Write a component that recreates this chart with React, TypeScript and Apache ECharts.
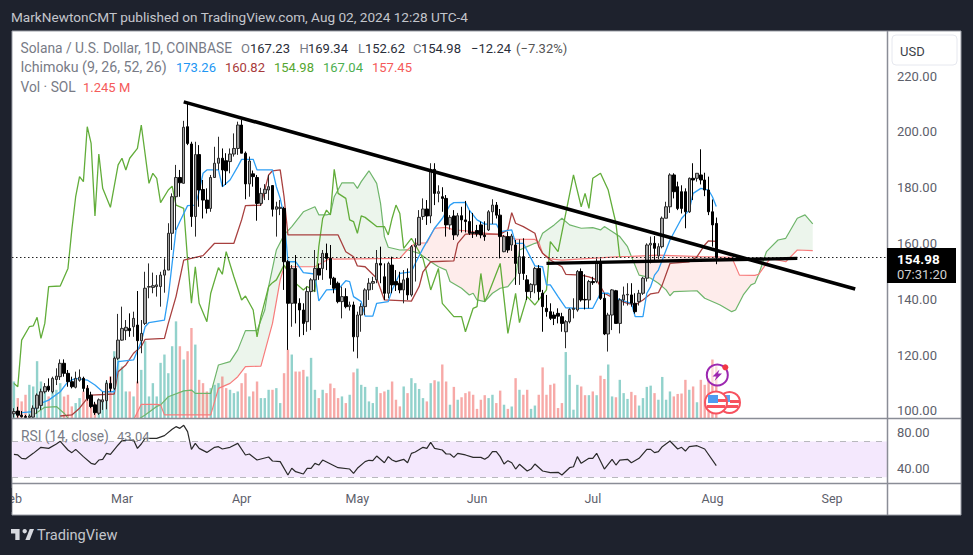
import React, { useEffect, useRef } from "react";
import * as echarts from "echarts";

type Knot = [number, number];

const priceTicks = [100, 120, 140, 160, 180, 200, 220];
const rsiTicks = [40, 80];
const monthTicks: Record<number, string> = { 28: "Mar", 59: "Apr", 89: "May", 120: "Jun", 150: "Jul", 181: "Aug", 212: "Sep" };
const DAY_COUNT = 227;

// open, close, low, high
const candles: number[][] = [
[99,99.8,97.6,101],[100,98.5,97.6,101.5],[98.5,98,97.6,100],[98,97.7,97.6,98.6],[97.7,98.2,97.6,98.8],[97.8,101,97.6,102],[101,105.7,99,106.3],[102,106.9,100.4,108],[106.9,108.7,106.3,110],[108.9,107.5,106.9,111.7],
[106.9,111.7,106.3,112.3],[111.3,112.5,109.3,115.3],[112.3,117.1,111.1,118.5],[117.1,113.5,112.3,118.5],[113.5,110.5,108.7,114.7],[110.5,108.7,108.1,112.3],[108.5,111.7,108.1,114.1],[111,112.1,110.5,114.9],[111.7,108.1,106.9,112.3],[108.1,104.5,103.7,109.3],
[105.7,101.6,101,106.9],[102.2,99.4,98.6,103.3],[99.2,104,98.6,104.5],[103.3,104,100.4,106.9],[103.7,109.9,100.6,111.1],[109.9,108.1,106.9,112.3],[108.1,118.9,107.5,119.5],[118.9,125.4,118.3,134.8],[125.4,129.6,125.2,137.4],[128.8,130,125.4,132.6],
[129.6,128.8,126.6,135],[130.2,133.2,126.6,135.6],[130.8,125.2,109.9,143],[125.2,127.8,120.7,132.6],[131.4,144,130.8,149.9],[144.4,144.6,140.4,152.9],[144.3,144.9,142.2,149.6],[144.6,145.2,141,148.7],[144.6,148.7,137.4,149.9],[148.7,150.5,142.4,154.7],
[150.5,163.7,150.5,167.3],[163.7,176.8,157.7,178],[176.8,183.7,164.9,188.2],[183.7,181.8,176.8,186.4],[181.6,201.7,181.6,204],[201.9,195.9,195.3,210.3],[195.7,169.7,166,196.5],[169.7,191.9,162.5,196.5],[191.9,179.2,173.2,195.3],[179.4,175.6,169,182.8],
[175.6,172.6,170.8,179.8],[172.6,183.7,171.4,184.6],[183.7,188.8,183.7,194.7],[188.8,190.6,186.4,198.3],[190.6,186.4,180.4,194.1],[189.7,186.1,181,192.4],[189.4,192.1,185.2,194.1],[192.1,194.1,191.2,199.5],[194.1,202.5,191.8,203.7],[202.5,192.4,192.4,204.3],
[192.4,181.4,175.9,193],[181.4,189.6,176.8,191.2],[185,184,180.4,186.2],[183.7,174.4,168.2,184.6],[174.4,178,173.5,180],[178,179.5,175.6,181.3],[179.2,180.4,175.6,184.6],[180.8,172.3,169.7,181],[172.3,173.2,162.5,175],[172.6,173,170.2,175.6],
[172.6,153.5,143.4,173.2],[153.5,138.6,121.9,154.1],[138.6,151.1,130.2,152.3],[151.1,138.6,131.4,155.9],[138.6,136.2,126.6,140.4],[136.2,131.4,127.2,138.6],[132,142.8,128.4,144.6],[142.8,147,129,147.6],[147,151.1,142.8,157.7],[151.1,148.7,147,152.9],
[151.1,156.5,147,157.7],[156.5,154.7,150.5,160],[154.7,147.6,145.2,159.5],[147.6,144,142.2,148.1],[145.8,139.2,138.6,146.4],[139.2,141,133.2,144.6],[141,137.4,136.8,144],[137.4,138,136,139.2],[138,126.6,121.3,139.2],[126.6,134.4,118.9,135.6],
[134.4,137.4,128.4,138.6],[137.4,143.4,134.4,144],[143.4,145.8,139.8,147.6],[145.8,146.4,143.4,148.1],[147,152.9,145.8,157.7],[152.9,152.3,145.8,158.9],[148.1,142.2,139.8,152.9],[142.2,152.9,140.4,153.5],[152.3,145.2,142.2,155.3],[146.4,145.2,143,150.5],
[145.8,143.4,142.2,149.9],[143.4,147,138.6,150.5],[147.6,141.6,139.8,151.1],[141.6,158.9,141,159.5],[158.9,159.5,146.4,161.9],[159.5,169.4,159.5,172],[169.7,172.4,168.5,176.2],[172.4,169.9,166.7,175.6],[169.9,186.4,167.3,188.8],[186.6,178,173.8,188.8],
[178,178.6,174.8,180.9],[176.8,176.2,171.4,180.2],[176.2,166.7,162.5,177.4],[166.7,169.4,165,170.2],[169.9,163.1,161.3,172],[163.1,170,162.5,171],[170,168.5,164,173.2],[168.5,167.9,164,175.3],[167.9,163.7,163.1,171.9],[164,163.7,162,171],
[164.7,163.5,162.5,166.7],[166.7,163.1,161.9,167.9],[163,162.5,161,168],[164.9,171.4,164.5,172],[171.4,173.8,167,175.9],[173.8,170.2,169,174.9],[170.2,162.5,154.7,172.4],[157.1,162.5,156.9,163.1],[162.5,157.7,156.7,164.3],[159.5,162.7,157.4,163.5],
[159.5,152.9,145.2,161.3],[149.3,155.3,145.2,161.5],[155.3,149.3,147,161.9],[147,142.8,139.8,148.7],[142.8,145.4,140.4,145.8],[145.2,151.1,142.2,151.7],[151.1,142.8,139.8,152.3],[142.2,137.4,128.4,143.4],[136.8,135.6,133.8,141.6],[135.6,133.2,132.6,138.6],
[134.4,133.2,130.8,135.6],[135,134,131.4,136.8],[133.8,131.4,128.4,135.2],[128.4,132,122.5,132.6],[132,136.4,131.4,136.8],[136.4,136.8,133.2,140.4],[136.2,150,135.6,150.5],[150,139.8,139.2,151.1],[140,139.8,136.4,149],[139.8,146.4,136.8,147],
[146.4,146,145.2,148.1],[146.4,153.5,145.8,154.7],[153.5,140.4,139.8,154.7],[140.4,127.6,127.2,142.2],[127.6,134.4,121.3,135.2],[134.4,143.4,129,143.7],[143.1,131.4,131.4,143.4],[131.4,139.8,127.8,140.4],[139.8,141.6,137.8,144.6],[141.6,141.8,137.8,145.8],
[141.6,138.6,137.4,145.8],[138.6,135.6,134.9,142.2],[139.2,142.2,137.8,143.4],[142.2,147.6,141.6,148.1],[147.6,159.5,146.4,160.1],[159.5,160.1,152.9,162.5],[160.1,158.3,153.5,162.7],[155.6,158.9,154.4,160.1],[158.9,169.1,158.3,169.7],[169.1,173.2,169.1,175],
[173.2,184.6,171,185.2],[184.6,178.6,176.2,185.2],[180.4,172.6,172,182.2],[178.6,172.6,170.8,180.9],[178.6,171.4,165.5,179.8],[171.4,183.4,171,183.7],[183.4,182.8,175.6,188.8],[183.4,185.2,182.2,185.2],[184.6,182.8,181.2,193.8],[182.8,179.2,177,185.4],
[179.2,171.4,170.2,184],[171.4,166.7,158.9,175.8],[167.23,154.98,152.62,169.34],
];

const volumes = [
0.88,0.48,0.40,0.56,0.80,0.76,1.37,0.88,0.76,0.52,0.72,0.68,0.84,0.52,0.56,0.28,0.36,0.48,0.64,0.76,
0.28,0.36,0.36,0.44,0.88,1.00,1.61,1.69,1.24,0.64,0.64,0.52,0.88,1.16,1.85,0.52,0.84,0.52,1.33,1.53,
1.08,1.73,2.33,1.73,1.41,1.61,2.17,1.77,0.92,0.84,0.64,0.72,0.80,0.84,1.00,0.72,0.68,0.60,0.64,0.84,
1.08,0.52,0.64,0.88,0.48,0.48,0.68,0.68,0.72,0.36,1.08,1.65,1.53,1.12,1.12,1.16,1.00,1.45,0.68,0.48,
0.68,0.60,0.83,0.72,0.48,0.52,0.36,0.56,1.10,1.19,0.80,0.75,0.40,0.36,0.75,0.60,0.64,0.68,0.88,0.44,
0.28,0.76,0.60,0.96,0.84,0.70,0.48,0.40,0.84,0.91,0.88,1.29,0.88,0.32,0.75,0.44,0.50,0.60,0.64,0.56,
0.22,0.44,0.55,0.48,0.56,0.36,0.66,0.32,0.22,0.28,0.96,0.68,0.56,0.68,0.22,0.30,0.56,1.22,0.56,0.80,
0.83,0.24,0.36,1.59,1.04,0.20,0.80,0.76,0.55,0.55,0.64,0.55,1.02,0.94,1.29,0.52,0.50,0.92,0.60,0.46,
0.63,0.55,0.30,0.48,0.75,0.78,0.60,0.44,0.99,0.44,0.64,0.52,0.58,0.59,0.92,0.68,0.76,0.38,0.92,0.80,
0.96,1.41,1.245,
];

const tenkan: Knot[] = [[2,99.4],[5,99.8],[6,102.2],[9,103.9],[12,106.9],[14,110.5],[16,111.7],[19,111.1],[21,109.3],[23,106.9],[26,106.9],[27,117.7],[31,118.3],[33,124.9],[34,130.2],[35,131.7],[39,132.6],[40,141],[42,164.9],[43,167.9],[45,173.6],[47,173.8],[48,178.6],[49,185.2],[50,186.4],[53,186.4],[54,180.4],[56,182.8],[58,187.6],[59,190.2],[62,190.2],[63,186.4],[67,186.4],[68,180.4],[69,176.2],[70,169.7],[71,153.5],[73,153.5],[75,149.6],[78,149.1],[79,139.5],[81,143.4],[84,143.6],[86,146.7],[87,146.4],[88,141],[90,139.2],[91,134],[93,134],[94,138.6],[97,139.2],[98,143.4],[100,149.3],[103,149.9],[104,152.9],[106,158.3],[109,165.5],[111,169],[113,173.8],[114,174.7],[117,174.8],[118,172],[120,168.5],[122,167],[125,167],[126,164.3],[129,164.9],[130,160.1],[132,160.1],[134,154.7],[135,152],[137,151.7],[138,145.2],[139,145.2],[141,141],[143,137],[146,136.8],[150,136.8],[152,142.2],[154,142.2],[156,140.4],[160,138.6],[161,133.8],[163,133.8],[164,142.2],[165,144.6],[166,148.7],[167,150.5],[170,161.3],[173,169],[175,172],[176,178],[178,179.8],[180,179.2],[181,176.8],[182,173.26]];

const kijun: Knot[] = [[12,98.2],[15,98.6],[17,101],[19,104.5],[20,105.7],[26,106.1],[27,114.1],[29,116.5],[31,120.7],[33,123.1],[34,125.7],[39,126],[40,131.4],[42,141],[44,154.1],[49,155.7],[52,160.1],[57,160.1],[59,168.5],[60,173.6],[64,173.8],[66,184.6],[67,186.1],[69,186.4],[70,176.8],[71,163.1],[84,163.1],[86,157.1],[88,155.3],[89,152],[91,151.7],[94,147.6],[96,139.8],[103,139.4],[105,144.6],[106,149.9],[108,153.5],[114,153.8],[115,160.1],[117,163.4],[126,163.4],[128,164.9],[129,171.1],[130,167.3],[132,166.1],[135,163.7],[136,158.9],[137,156.5],[139,154.1],[142,151.7],[143,149],[147,148.7],[149,148.1],[151,147],[153,142.2],[156,140],[159,138.6],[161,138],[163,139.8],[165,142],[167,142.4],[168,145.2],[170,152.9],[175,153.5],[177,155.3],[179,159.5],[180,161],[182,160.82]];

const chikou: Knot[] = [[0,109.9],[1,108.7],[2,125.4],[4,130.2],[5,130.5],[6,133.6],[7,126],[8,131.4],[9,144.6],[12,144.8],[14,151.1],[15,164.9],[16,176.8],[17,184],[18,182.2],[19,201.9],[20,195.9],[21,169.9],[22,192.1],[23,179.8],[25,173],[27,188.2],[28,190.6],[29,186.4],[30,190.6],[32,194.1],[33,202.5],[35,181.6],[36,185.2],[37,183.4],[38,174.7],[40,179.2],[41,180.6],[42,173.8],[44,172.6],[45,154.1],[46,138.6],[47,151.7],[48,138.6],[50,132],[51,142.2],[53,151.4],[54,149],[55,157.1],[57,148.1],[59,139.8],[60,141.2],[62,136.2],[63,126.6],[64,133.8],[66,144.6],[67,146],[68,147],[70,152.3],[71,149.9],[72,147],[75,143.4],[76,144.6],[78,142.8],[79,158.9],[80,169],[81,172],[82,170.3],[83,186.6],[84,178],[86,176.2],[87,168.5],[88,167.9],[89,163.7],[90,169.9],[91,169.4],[94,166.1],[96,166.1],[97,163.1],[98,169.1],[99,173.8],[100,170.8],[101,158.3],[103,161.9],[104,159.5],[106,154.7],[107,149.3],[108,143.4],[110,151.1],[111,138.6],[114,133.8],[116,133.8],[117,128.4],[119,136.8],[120,137.4],[121,149.3],[122,139.2],[123,142.2],[126,152.9],[128,127.8],[130,142.2],[131,131.7],[133,141],[135,138],[136,139.8],[138,143.4],[139,160.7],[141,157.1],[143,170.8],[145,184.6],[147,173.2],[148,178],[149,172.6],[150,183.4],[152,185.2],[154,179.2],[156,167.3],[157,155]];

const senkouA: Knot[] = [[5,98.6],[8,101.3],[11,101.6],[13,99.2],[14,97.4],[24,95.6],[32,96.8],[34,98.6],[37,101.6],[38,102.2],[40,105.1],[44,107.2],[46,107.5],[47,106.3],[51,106.3],[53,116.5],[56,117.7],[58,121.9],[60,128.8],[63,128.8],[65,136.2],[66,144.6],[68,157.7],[70,163.1],[72,166.1],[75,171.4],[78,173.2],[79,170.3],[81,170.3],[82,170.6],[83,176.8],[85,181.8],[88,181.8],[89,179.8],[90,182.2],[92,186.1],[94,181.6],[95,174.4],[96,162.5],[97,158.7],[100,157.7],[102,157.8],[105,156.5],[108,153.5],[110,151.7],[112,150.5],[113,146.4],[116,144],[118,141.6],[119,142.2],[120,139.8],[122,139.2],[124,142.2],[126,144],[128,144.6],[130,148.1],[131,157.7],[133,158.9],[135,160.1],[136,160.5],[137,163.7],[140,166.7],[142,169.1],[144,166.7],[147,165.5],[150,165.7],[152,164.9],[153,166.1],[155,164.3],[157,162.5],[159,158.9],[160,155.4],[162,148.7],[164,148.1],[165,147.6],[167,145.8],[169,143.4],[170,141.3],[171,142.8],[177,143.1],[179,140.4],[182,138.6],[183,138],[186,135.6],[187,136.2],[189,141.6],[191,145.2],[192,145.8],[193,149],[195,157.1],[198,161.3],[200,161.9],[203,169.1],[205,170.3],[207,167.04]];

const senkouB: Knot[] = [[31,96.8],[33,102.4],[37,102.4],[38,102.2],[39,98.6],[51,98.6],[53,108.1],[56,109.9],[58,112.3],[60,115.9],[64,116.1],[67,131.4],[69,147],[70,151.7],[78,151.7],[82,154.8],[83,154.4],[100,154.7],[102,157.8],[104,160.1],[107,160.3],[109,165.5],[112,165.8],[114,164.9],[117,164.6],[126,163.1],[130,161.6],[135,161.5],[136,160.5],[137,156.5],[139,154.5],[142,154.1],[157,155.3],[160,155.4],[167,155.9],[178,155.3],[186,155.1],[188,148.7],[192,148.6],[193,149],[196,154.7],[200,153.5],[203,157.7],[207,157.45]];

const cloudBreaks = [31, 38, 102, 136, 160, 193, 207];

const rsi: Knot[] = [[0,55.7],[1,55],[2,51.2],[3,50.5],[5,56.8],[7,63.6],[9,62.4],[11,67.3],[12,70.3],[14,60.6],[15,57.6],[16,61.3],[18,53.1],[20,45.6],[21,44.5],[22,49.3],[23,50.1],[24,56.8],[25,55.7],[27,66.2],[28,71],[31,71.8],[32,62.4],[33,67.3],[34,73.7],[37,73.7],[39,76.7],[41,83.8],[42,86.8],[43,84.9],[44,88.3],[45,81.2],[46,61.3],[47,68],[48,62.4],[50,57.9],[52,63.6],[53,64.3],[54,61.7],[56,63.6],[58,68],[60,55],[61,56.1],[63,49.3],[66,52.7],[67,48.2],[69,47.5],[71,32.5],[72,40],[73,36.2],[75,33.6],[76,40],[77,40],[78,45.6],[79,43.7],[80,49.3],[84,40.7],[87,39.2],[88,34.3],[89,40],[91,47.5],[92,49],[93,48.6],[94,53.8],[96,46.3],[97,53.1],[98,49.3],[99,47.5],[101,50.1],[102,46.3],[103,56.8],[104,58.3],[106,63.6],[107,62.4],[108,69.2],[109,62.4],[111,60.6],[112,56.1],[113,56.1],[114,52.3],[115,56.8],[117,55],[119,52.3],[121,52.3],[122,50.1],[123,53.1],[124,58.7],[125,58.7],[126,53.1],[127,44.8],[128,48.6],[129,46.3],[130,39.2],[131,44.5],[133,37],[134,39.2],[135,44.8],[137,37],[139,35.1],[141,35.5],[142,32.5],[144,40.7],[145,41.8],[146,53.1],[147,45.6],[149,51.2],[150,51.2],[151,56.8],[153,39.2],[155,50.1],[156,43.7],[157,49.3],[159,50.1],[160,46.3],[162,51.2],[164,61.3],[165,61.3],[166,57.6],[167,58.7],[168,64.3],[170,70.7],[172,61.7],[173,63.6],[174,59.4],[175,64.3],[177,65.4],[179,61.7],[182,43.04]];

const trendLine: Knot[] = [[44, 210.8], [218, 143.7]];
const supportLine: Knot[] = [[138, 152.9], [203, 154.7]];
const candleMark: Knot[] = [[152, 153.5], [152, 140.4]];
const lastClose = 154.98;

const DARK = "#1e222d";
const GRAY = "#787b86";
const FONT = "Roboto, sans-serif";
const LABEL_SIZE = 13.8;

const days: string[] = Array.from({ length: DAY_COUNT }, (_, i) => monthTicks[i] || `d${i}`);

const text = (t: string, x: number, y: number, fill: string, size = 13, extra: any = {}) => ({
  type: "text", x, y, z: 50,
  style: { text: t, fill, font: `${extra.weight || "normal"} ${size}px ${FONT}`, verticalAlign: "middle", align: extra.align || "left" },
});

export default function App() {
  const ref = useRef<HTMLDivElement>(null);
  useEffect(() => {
    document.body.style.margin = "0";
    document.body.style.background = DARK;
    const chart = echarts.init(ref.current!, null, { renderer: "svg" });
    const inRange = (s: Knot[], a: number, b: number) => s.filter((k) => k[0] >= a && k[0] <= b);
    const regions = cloudBreaks.slice(0, -1).map((a, k) => [a, cloudBreaks[k + 1]]);
    const graphics: any[] = [
      { type: "rect", z: -10, shape: { x: 12, y: 31, width: 949, height: 484 }, style: { fill: "#fff", stroke: "#9a9da6", lineWidth: 1 } },
      text("MarkNewtonCMT published on TradingView.com, Aug 02, 2024 12:28 UTC-4", 11, 17, "#c4c6cc", 13.6),
      text("Solana / U.S. Dollar, 1D, COINBASE", 20.5, 48, GRAY, LABEL_SIZE),
      text("O", 241, 48, GRAY), text("167.23", 250, 48, "#2a2e39"),
      text("H", 299.5, 48, GRAY), text("169.34", 308, 48, "#2a2e39"),
      text("L", 358, 48, GRAY), text("152.62", 365, 48, "#2a2e39"),
      text("C", 413, 48, GRAY), text("154.98", 421, 48, "#2a2e39"),
      text("−12.24", 471, 48, "#2a2e39"), text("(−7.32%)", 516, 48, "#555"),
      text("Ichimoku (9, 26, 52, 26)", 20.5, 67, GRAY, 14.2),
      text("173.26", 176, 67, "#2196f3"), text("160.82", 225, 67, "#a83a3a"),
      text("154.98", 274, 67, "#55a630"), text("167.04", 323, 67, "#4caf50"), text("157.45", 372, 67, "#f55a5a"),
      text("Vol · SOL", 20.5, 87, GRAY, LABEL_SIZE), text("1.245 M", 83, 87, "#f55a5a"),
      text("RSI (14, close)", 21, 436, GRAY, LABEL_SIZE), text("43.04", 117, 436, GRAY),
      { type: "line", z: 40, shape: { x1: 12, y1: 418.5, x2: 961, y2: 418.5 }, style: { stroke: "#8a8d96", lineWidth: 1.5 } },
      { type: "line", z: 40, shape: { x1: 12, y1: 483.5, x2: 961, y2: 483.5 }, style: { stroke: "#8a8d96", lineWidth: 1.5 } },
      { type: "line", z: 40, shape: { x1: 887.5, y1: 31, x2: 887.5, y2: 515 }, style: { stroke: "#8a8d96", lineWidth: 1.5 } },
      { type: "rect", z: 41, shape: { x: 892, y: 35, width: 65, height: 30, r: 4 }, style: { fill: "#fff", stroke: "#e6e8ef", lineWidth: 1 } },
      text("USD", 900, 51, "#3c3f48", 13),
      { type: "rect", z: 45, shape: { x: 887, y: 248, width: 69, height: 35 }, style: { fill: "#000" } },
      text("154.98", 897, 258.5, "#fff", 13.5, { weight: "bold" }),
      text("07:31:20", 897, 274, "#d0d0d0", 13),
      text("Feb", 22, 498, "#5d606b", 12.5, { align: "right" }),
      { type: "rect", z: 51, shape: { x: 0, y: 488, width: 11.5, height: 24 }, style: { fill: DARK } },
      // TradingView mark
      { type: "polygon", z: 50, shape: { points: [[11, 529], [19.6, 529], [19.6, 540], [15.3, 540], [15.3, 533.4], [11, 533.4]] }, style: { fill: "#d8dae0" } },
      { type: "polygon", z: 50, shape: { points: [[25.4, 540], [29.7, 529], [34, 529], [29.7, 540]] }, style: { fill: "#d8dae0" } },
      { type: "circle", z: 50, shape: { cx: 24.7, cy: 531.2, r: 2.2 }, style: { fill: "#d8dae0" } },
      text("TradingView", 37, 535, "#c4c6cc", 14.6),
      // event markers
      { type: "circle", z: 60, shape: { cx: 717.3, cy: 375, r: 10.5 }, style: { fill: "rgba(255,255,255,0.6)", stroke: "#9c27b0", lineWidth: 2 } },
      { type: "polygon", z: 61, shape: { points: [[719.5, 369.5], [712.5, 376.5], [716.5, 376.5], [714.5, 381], [722, 373.5], [718, 373.5]] }, style: { fill: "#9c27b0" } },
      { type: "circle", z: 62, shape: { cx: 725.3, cy: 367.3, r: 3 }, style: { fill: "#f23645" } },
      { type: "circle", z: 60, shape: { cx: 729.5, cy: 402.5, r: 10.5 }, style: { fill: "#fff", stroke: "#f7525f", lineWidth: 2 } },
      { type: "rect", z: 61, shape: { x: 724, y: 395, width: 6, height: 7 }, style: { fill: "#5aa2f0" } },
      { type: "rect", z: 61, shape: { x: 730, y: 400, width: 9, height: 3 }, style: { fill: "#f7525f" } },
      { type: "rect", z: 61, shape: { x: 722, y: 405, width: 16, height: 3 }, style: { fill: "#f7525f" } },
      { type: "circle", z: 63, shape: { cx: 716, cy: 402.5, r: 11 }, style: { fill: "#fff", stroke: "#f7525f", lineWidth: 2 } },
      { type: "rect", z: 64, shape: { x: 708, y: 395, width: 10, height: 8 }, style: { fill: "#4f9bf0" } },
      { type: "rect", z: 64, shape: { x: 718, y: 399, width: 8, height: 3 }, style: { fill: "#f7525f" } },
      { type: "rect", z: 64, shape: { x: 707, y: 405, width: 18, height: 3 }, style: { fill: "#f7525f" } },
    ];
    const thinLine = (data: Knot[], color: string, width = 1.2, z = 3) => ({
      type: "line", data, xAxisIndex: 0, yAxisIndex: 0, showSymbol: false, symbol: "none", silent: true, z,
      lineStyle: { color, width }, clip: true,
    });
    chart.setOption({
      animation: false,
      backgroundColor: DARK,
      graphic: graphics,
      grid: [
        { left: 12, right: 85, top: 31, height: 387, containLabel: false },
        { left: 12, right: 85, top: 419, height: 64, containLabel: false },
      ],
      xAxis: [
        { type: "category", gridIndex: 0, data: days, show: false, boundaryGap: true },
        {
          type: "category", gridIndex: 1, data: days, boundaryGap: true,
          axisLine: { show: false }, axisTick: { show: false },
          axisLabel: {
            interval: (i: number) => !!monthTicks[i],
            formatter: (v: string) => v,
            color: "#5d606b", fontSize: 12.5, fontFamily: FONT, margin: 9,
          },
        },
      ],
      yAxis: [
        {
          type: "value", gridIndex: 0, position: "right", min: 97.49, max: 236.2, splitLine: { show: false },
          axisLine: { show: false }, axisTick: { show: false },
          axisLabel: { customValues: priceTicks, formatter: (v: number) => v.toFixed(2), color: "#5d606b", fontSize: 13, fontFamily: FONT, margin: 9 },
        },
        { type: "value", gridIndex: 0, position: "right", min: 0, max: 9.33, show: false, splitLine: { show: false } },
        {
          type: "value", gridIndex: 1, position: "right", min: 23.5, max: 95.4, splitLine: { show: false },
          axisLine: { show: false }, axisTick: { show: false },
          axisLabel: { customValues: rsiTicks, formatter: (v: number) => v.toFixed(2), color: "#5d606b", fontSize: 13, fontFamily: FONT, margin: 9 },
        },
      ],
      series: [
        {
          type: "custom", xAxisIndex: 0, yAxisIndex: 0, coordinateSystem: "cartesian2d", clip: true, silent: true, z: 1,
          data: regions.map((r, k) => [k, r[0], r[1]]),
          renderItem: (params: any, api: any) => {
            const [a, b] = regions[params.dataIndex];
            const top = inRange(senkouA, a, b);
            const under = inRange(senkouB, a, b);
            const isGreen = top[Math.floor(top.length / 2)][1] > under[Math.floor(under.length / 2)][1];
            return {
              type: "polygon",
              shape: { points: [...top, ...[...under].reverse()].map((k) => api.coord(k)) },
              style: { fill: isGreen ? "rgba(67,160,71,0.1)" : "rgba(244,67,54,0.1)" },
            };
          },
        },
        {
          type: "bar", xAxisIndex: 0, yAxisIndex: 1, barWidth: 2.4, silent: true, z: 2,
          data: volumes.map((v, i) => ({
            value: v,
            itemStyle: { color: candles[i][1] >= candles[i][0] ? "rgba(38,166,154,0.5)" : "rgba(239,83,80,0.5)" },
          })),
        },
        thinLine(senkouA, "#6fb56b"),
        thinLine(senkouB, "#f77c7c"),
        thinLine(chikou, "#62ad3a", 1.3),
        thinLine(kijun, "#a8403f", 1.3),
        thinLine(tenkan, "#2e9ff5", 1.3),
        {
          type: "candlestick", xAxisIndex: 0, yAxisIndex: 0, data: candles, barWidth: 3, silent: true, z: 5, clip: true,
          itemStyle: { color: "#a3a3a3", color0: "#000", borderColor: "#2a2a2a", borderColor0: "#000", borderWidth: 1 },
          markLine: {
            silent: true, symbol: "none", label: { show: false },
            lineStyle: { color: "#222", type: [1.5, 2.5], width: 1 },
            data: [{ yAxis: lastClose }],
          },
        },
        thinLine(candleMark, "#000", 3.2, 9),
        thinLine(trendLine, "#000", 3.6, 10),
        thinLine(supportLine, "#000", 3.4, 10),
        {
          type: "line", xAxisIndex: 1, yAxisIndex: 2, data: rsi, symbol: "none", silent: true, z: 5,
          lineStyle: { color: "#2a2a2a", width: 1.2 },
          markArea: {
            silent: true, itemStyle: { color: "#f4e8fd" },
            data: [[{ yAxis: 70, x: 12 }, { yAxis: 30, x: 888 }]],
          },
          markLine: {
            silent: true, symbol: "none", label: { show: false },
            lineStyle: { color: "#b8b8bd", type: [6, 6], width: 1.2 },
            data: [{ yAxis: 70 }, { yAxis: 30 }],
          },
        },
      ],
    });
    return () => chart.dispose();
  }, []);
  return <div ref={ref} style={{ width: 973, height: 555 }} />;
}
